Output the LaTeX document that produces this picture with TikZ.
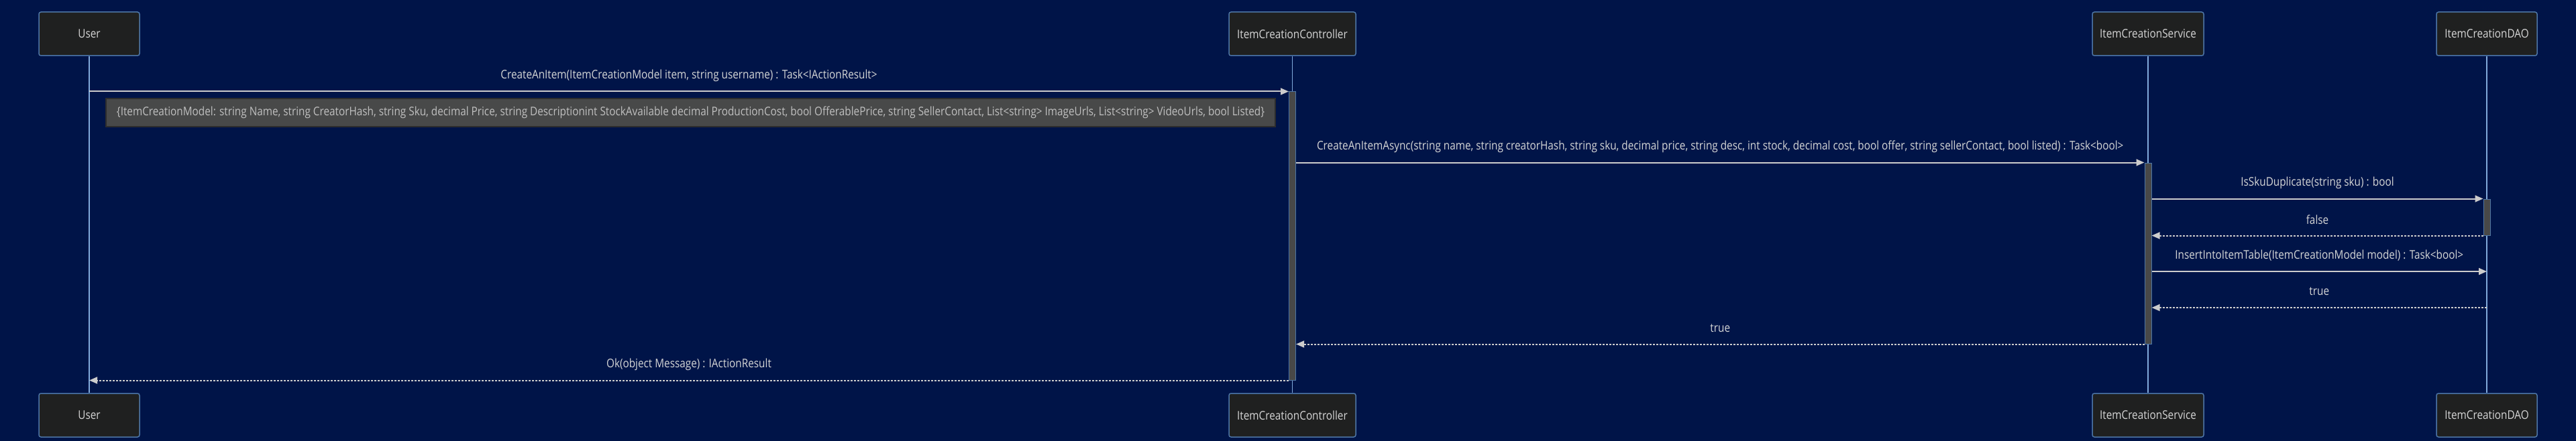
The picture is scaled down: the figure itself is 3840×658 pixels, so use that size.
\documentclass[tikz,border=0pt]{standalone}
\usepackage{fontspec}
\setmainfont[FakeStretch=0.86]{Open Sans}
\usepackage{xcolor}
\usetikzlibrary{arrows.meta, calc}
\definecolor{seqBg}{RGB}{0,20,72}
\definecolor{seqBox}{RGB}{31,32,32}
\definecolor{seqEdge}{RGB}{78,118,166}
\definecolor{seqLife}{RGB}{129,170,219}
\definecolor{seqTxt}{RGB}{214,214,214}
\definecolor{seqArr}{RGB}{204,204,204}
\definecolor{seqNote}{RGB}{72,73,73}
\definecolor{seqNoteEdge}{RGB}{45,45,45}
\definecolor{seqNoteTxt}{RGB}{192,192,192}
\definecolor{seqAct}{RGB}{72,72,72}

\begin{document}
\begin{tikzpicture}[x=0.5pt, y=-0.5pt,
  every node/.style={font=\fontsize{8.9}{10.7}\selectfont, text=seqTxt},
  actor/.style={draw=seqEdge, fill=seqBox, line width=0.75pt, rounded corners=1.5pt, minimum height=32.5pt, inner sep=0pt},
  life/.style={seqLife, line width=0.75pt},
  actbar/.style={draw=seqEdge, fill=seqAct, line width=0.5pt, minimum width=5pt, inner sep=0pt},
  msg/.style={seqArr, line width=1pt, -{Triangle[length=6pt, width=5pt]}},
  ret/.style={msg, dash pattern=on 1.5pt off 1pt},
  lbl/.style={midway, yshift=12pt, inner sep=0pt},
  note/.style={draw=seqNoteEdge, fill=seqNote, line width=0.75pt, text=seqNoteTxt, inner sep=0pt}]
\fill[seqBg] (0,0) rectangle (3840,658);
\useasboundingbox (0,0) rectangle (3840,658);
% participants, top
\node[actor, minimum width=75pt] (userT) at (133,50.5) {User};
\node[actor, minimum width=94.5pt] (ctrlT) at (1926.5,50.5) {ItemCreationController};
\node[actor, minimum width=83pt] (svcT) at (3202,50.5) {ItemCreationService};
\node[actor, minimum width=75pt] (daoT) at (3707,50.5) {ItemCreationDAO};
% participants, bottom
\node[actor, minimum width=75pt] (userB) at (133,619.5) {User};
\node[actor, minimum width=94.5pt] (ctrlB) at (1926.5,619.5) {ItemCreationController};
\node[actor, minimum width=83pt] (svcB) at (3202,619.5) {ItemCreationService};
\node[actor, minimum width=75pt] (daoB) at (3707,619.5) {ItemCreationDAO};
% lifelines
\draw[life] (userT.south) -- (userB.north);
\draw[life] (ctrlT.south) -- (ctrlB.north);
\draw[life] (svcT.south) -- (svcB.north);
\draw[life] (daoT.south) -- (daoB.north);
% activation bars
\node[actbar, minimum height=215pt] (actC) at (1926.5,352) {};
\node[actbar, minimum height=135pt] (actS) at (3202,378) {};
\node[actbar, minimum height=27pt] (actD) at (3707,324) {};
% note on the model
\node[note, minimum width=871.5pt, minimum height=21pt] (mdl) at (1029.5,168) {\{ItemCreationModel: string Name, string CreatorHash, string Sku, decimal Price, string Descriptionint StockAvailable decimal ProductionCost, bool OfferablePrice, string SellerContact, List<string> ImageUrls, List<string> VideoUrls, bool Listed\}};
% calls and returns
\coordinate (r5) at (3707,405);
\coordinate (r6) at (3707,459);
\draw[msg] (userT |- actC.north west) -- (actC.north west) node[lbl] (m1) {CreateAnItem(ItemCreationModel item, string username) : Task<IActionResult>};
\draw[msg] (actC.east |- actS.north west) -- (actS.north west) node[lbl] (m2) {CreateAnItemAsync(string name, string creatorHash, string sku, decimal price, string desc, int stock, decimal cost, bool offer, string sellerContact, bool listed) : Task<bool>};
\draw[msg] (actS.east |- actD.north west) -- (actD.north west) node[lbl] (m3) {IsSkuDuplicate(string sku) : bool};
\draw[ret] (actD.south west) -- (actS.east |- actD.south west) node[lbl] (m4) {false};
\draw[msg] (actS.east |- r5) -- (r5) node[lbl] (m5) {InsertIntoItemTable(ItemCreationModel model) : Task<bool>};
\draw[ret] (r6) -- (actS.east |- r6) node[lbl] (m6) {true};
\draw[ret] (actS.south west) -- (actC.east |- actS.south west) node[lbl] (m7) {true};
\draw[ret] (actC.south west) -- (userT |- actC.south west) node[lbl] (m8) {Ok(object Message) : IActionResult};
\end{tikzpicture}
\end{document}
